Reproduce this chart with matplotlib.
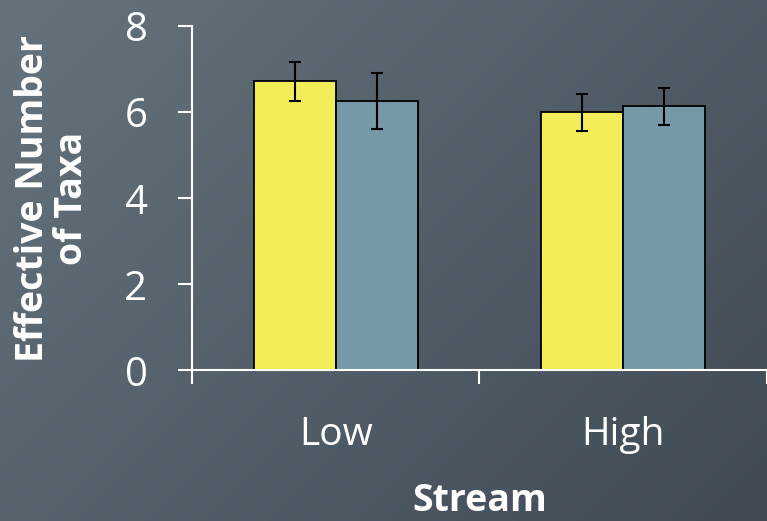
import numpy as np
import matplotlib.pyplot as plt
from matplotlib.colors import LinearSegmentedColormap

streams = ["Low", "High"]
group_a = [6.72, 6.00]
group_a_err = [0.45, 0.43]
group_b = [6.27, 6.14]
group_b_err = [0.65, 0.43]

yellow = "#f3ed5a"
teal = "#7599a6"

plt.rcParams['font.family'] = ['Open Sans', 'DejaVu Sans']

fig = plt.figure(figsize=(7.67, 5.21), dpi=100)

# diagonal slate gradient behind everything
bg = fig.add_axes([0, 0, 1, 1], zorder=-1)
gx, gy = np.meshgrid(np.linspace(0, 1, 300), np.linspace(0, 1, 200))
grad = (gx * 0.6 + gy * 0.4)
cmap = LinearSegmentedColormap.from_list("slate", ["#66737d", "#3f4a55"])
bg.imshow(grad, cmap=cmap, aspect='auto', extent=[0, 1, 0, 1], origin='upper')
bg.axis('off')

ax = fig.add_axes([0.2503, 0.2889, 0.7497, 0.6611])
ax.set_facecolor('none')

centers = np.arange(len(streams)) + 0.5
w = 0.286
err_kw = dict(ecolor='black', elinewidth=1.5, capsize=4.5, capthick=1.5)
ax.bar(centers - w / 2, group_a, w, yerr=group_a_err, color=yellow,
       edgecolor='black', linewidth=1.3, error_kw=err_kw)
ax.bar(centers + w / 2, group_b, w, yerr=group_b_err, color=teal,
       edgecolor='black', linewidth=1.3, error_kw=err_kw)

ax.set_xlim(0, 2)
ax.set_ylim(0, 8)
ax.set_yticks([0, 2, 4, 6, 8])
ax.set_xticks([0, 1, 2])
ax.set_xticklabels([])
ax.set_xticks(centers, minor=True)
ax.set_xticklabels(streams, minor=True)

for s in ['top', 'right']:
    ax.spines[s].set_visible(False)
for s in ['left', 'bottom']:
    ax.spines[s].set_color('white')
    ax.spines[s].set_linewidth(1.5)

ax.tick_params(axis='y', colors='white', direction='out', length=10,
               width=1.5, labelsize=29, pad=22)
ax.tick_params(axis='x', which='major', colors='white', direction='out',
               length=10, width=1.5)
ax.tick_params(axis='x', which='minor', colors='white', length=0,
               labelsize=28, pad=33)

ax.set_ylabel("Effective Number\nof Taxa", color='white', fontsize=27,
              fontweight='bold', labelpad=24, linespacing=1.05)
ax.set_xlabel("Stream", color='white', fontsize=27, fontweight='bold',
              labelpad=20)

fig.savefig("out.png", dpi=100)
